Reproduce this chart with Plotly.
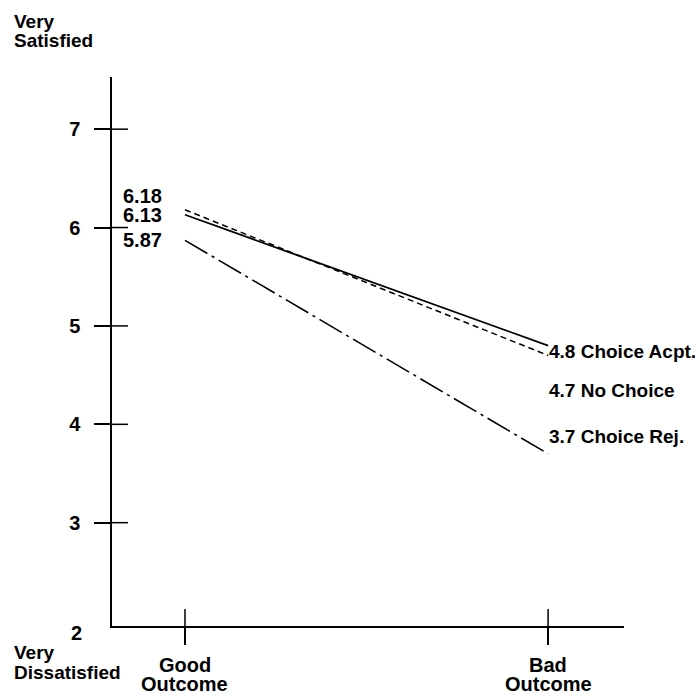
import plotly.graph_objects as go

# ---- data ----
outcomes = ["Good Outcome", "Bad Outcome"]
outcome_pos = [0, 1]
series_names = ["Choice Acpt.", "No Choice", "Choice Rej."]
choice_acpt = [6.13, 4.8]
no_choice = [6.18, 4.7]
choice_rej = [5.87, 3.7]
y_tick_vals = [3, 4, 5, 6, 7]
y_bottom_label = "2"
top_label = ["Very", "Satisfied"]
bottom_label = ["Very", "Dissatisfied"]

# ---- layout geometry (pixels) ----
W, H = 698, 696
L, R, T, B = 112, 74, 77, 70
PW, PH = W - L - R, H - T - B
FONT = "Liberation Sans, Arial, Helvetica, sans-serif"
FS = 20


def px_x(px):
    return (px - L) / PW


def px_y(py):
    return (H - B - py) / PH


def bold(s):
    return f"<b>{s}</b>"


fig = go.Figure()

styles = [
    dict(color="black", width=1.8, dash="solid"),
    dict(color="black", width=1.5, dash="6px,4px"),
    dict(color="black", width=1.6, dash="26px,5px,3px,5px"),
]
series_vals = [choice_acpt, no_choice, choice_rej]
for name, vals, st in zip(series_names, series_vals, styles):
    fig.add_trace(go.Scatter(x=outcome_pos, y=vals, mode="lines", name=name,
                             line=st, showlegend=False, hoverinfo="skip"))

annotations = []
txt_font = dict(family=FONT, size=FS, color="black")
# left value labels
left_shift = {"No Choice": 14, "Choice Acpt.": 0, "Choice Rej.": 0}
for name, vals in zip(series_names, series_vals):
    annotations.append(dict(x=outcome_pos[0], y=vals[0], xref="x", yref="y",
                            text=bold(f"{vals[0]:.2f}"), showarrow=False,
                            xanchor="right", yanchor="middle", xshift=-21,
                            yshift=left_shift[name], font=txt_font))
# right value labels
right_font = dict(family=FONT, size=19, color="black")
right_shift = {"Choice Acpt.": -6, "No Choice": -35, "Choice Rej.": 17}
for name, vals in zip(series_names, series_vals):
    annotations.append(dict(x=outcome_pos[1], y=vals[1], xref="x", yref="y",
                            text=bold(f"{vals[1]:g} {name}"), showarrow=False,
                            xanchor="left", yanchor="middle", xshift=-1,
                            yshift=right_shift[name], font=right_font))
# x category labels (two lines each)
for pos, lab in zip(outcome_pos, outcomes):
    words = lab.split(" ")
    for i, w in enumerate(words):
        annotations.append(dict(x=pos, y=px_y(665 + 19 * i), xref="x", yref="paper",
                                text=bold(w), showarrow=False, xanchor="center",
                                yanchor="middle", font=txt_font))
# "2" label at bottom of y axis
annotations.append(dict(x=px_x(84), y=px_y(633), xref="paper", yref="paper",
                        text=bold(y_bottom_label), showarrow=False, xanchor="right",
                        yanchor="middle", font=txt_font))
# very satisfied / dissatisfied
small_font = dict(family=FONT, size=19, color="black")
for i, w in enumerate(top_label):
    annotations.append(dict(x=px_x(12), y=px_y(21 + 19 * i), xref="paper", yref="paper",
                            text=bold(w), showarrow=False, xanchor="left",
                            yanchor="middle", font=small_font))
for i, w in enumerate(bottom_label):
    annotations.append(dict(x=px_x(12), y=px_y(652 + 20 * i), xref="paper", yref="paper",
                            text=bold(w), showarrow=False, xanchor="left",
                            yanchor="middle", font=small_font))

# inner halves of crossing tick marks
shapes = []
for v in y_tick_vals:
    shapes.append(dict(type="line", xref="paper", yref="y", x0=0, x1=16 / PW,
                       y0=v, y1=v, line=dict(color="black", width=1.5)))
for p in outcome_pos:
    shapes.append(dict(type="line", xref="x", yref="paper", x0=p, x1=p,
                       y0=0, y1=17 / PH, line=dict(color="black", width=1.5)))

fig.update_layout(
    width=W, height=H,
    margin=dict(l=L, r=R, t=T, b=B),
    paper_bgcolor="white", plot_bgcolor="white",
    annotations=annotations, shapes=shapes,
    font=txt_font,
    xaxis=dict(range=[-0.201, 1.209], showgrid=False, zeroline=False,
               showline=True, linecolor="black", linewidth=1.5,
               tickvals=outcome_pos, ticks="outside", ticklen=17, tickwidth=1.5,
               tickcolor="black", showticklabels=False, fixedrange=True),
    yaxis=dict(range=[1.95, 7.53], showgrid=False, zeroline=False,
               showline=True, linecolor="black", linewidth=1.5,
               tickvals=y_tick_vals, ticktext=[bold(v) for v in y_tick_vals],
               ticks="outside", ticklen=16, tickwidth=1.5, tickcolor="black",
               ticklabelstandoff=10, tickfont=txt_font, fixedrange=True),
)

fig.write_html("out.html", config={"displayModeBar": False},
               post_script="document.body.style.margin='0';")
